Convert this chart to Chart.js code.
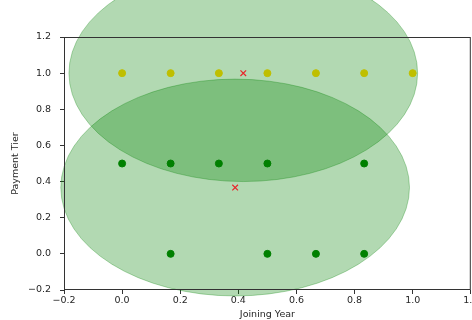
<!DOCTYPE html>
<html>
<head>
<meta charset="utf-8">
<script src="https://cdn.jsdelivr.net/npm/chart.js@4"></script>
<style>
  html, body { margin: 0; padding: 0; background: #fff; overflow: hidden; width: 472px; height: 320px; }
  #wrap { width: 476px; height: 320px; }
</style>
</head>
<body>
<div id="wrap"><canvas id="chart"></canvas></div>
<script>
// points per payment tier (x = joining year, scaled)
const tierHighX = [0, 0.167, 0.333, 0.5, 0.667, 0.833, 1.0];
const tierHighY = 1.0;
const tierMidX = [0, 0.167, 0.333, 0.5, 0.833];
const tierMidY = 0.5;
const tierLowX = [0.167, 0.5, 0.667, 0.833];
const tierLowY = 0.0;

// cluster centres and radius of the shaded circles
const centreX = [0.417, 0.389];
const centreY = [1.0, 0.367];
const clusterRadius = 0.6;

const xTicks = [-0.2, 0.0, 0.2, 0.4, 0.6, 0.8, 1.0, 1.2];
const yTicks = [-0.2, 0.0, 0.2, 0.4, 0.6, 0.8, 1.0, 1.2];

const fmt = v => (v < 0 ? '\u2212' : '') + Math.abs(v).toFixed(1);
const pts = (xs, y) => xs.map(x => ({ x: x, y: y }));

// shaded clusters, drawn under the points and not clipped to the axes
const circlePlugin = {
  id: 'circles',
  beforeDatasetsDraw(chart) {
    const { ctx, scales: { x, y } } = chart;
    ctx.save();
    centreX.forEach((cx, i) => {
      const px = x.getPixelForValue(cx);
      const py = y.getPixelForValue(centreY[i]);
      const rx = Math.abs(x.getPixelForValue(cx + clusterRadius) - px);
      const ry = Math.abs(y.getPixelForValue(centreY[i] + clusterRadius) - py);
      ctx.beginPath();
      ctx.ellipse(px, py, rx, ry, 0, 0, Math.PI * 2);
      ctx.fillStyle = 'rgba(0,128,0,0.3)';
      ctx.fill();
      ctx.lineWidth = 1;
      ctx.strokeStyle = 'rgba(0,128,0,0.3)';
      ctx.stroke();
    });
    ctx.restore();
  },
  afterDatasetsDraw(chart) {
    const { ctx, chartArea: a } = chart;
    ctx.save();
    ctx.strokeStyle = '#333';
    ctx.lineWidth = 1;
    ctx.strokeRect(a.left + 0.5, a.top + 0.5, a.right - a.left - 1, a.bottom - a.top - 1);
    ctx.restore();
  }
};

new Chart(document.getElementById('chart'), {
  type: 'scatter',
  data: {
    datasets: [
      {
        data: pts(tierHighX, tierHighY),
        backgroundColor: '#bfbf00',
        borderColor: '#bfbf00',
        pointRadius: 3.5,
      },
      {
        data: pts(tierMidX, tierMidY),
        backgroundColor: '#008000',
        borderColor: '#008000',
        pointRadius: 3.5,
      },
      {
        data: pts(tierLowX, tierLowY),
        backgroundColor: '#008000',
        borderColor: '#008000',
        pointRadius: 3.5,
      },
      {
        data: centreX.map((cx, i) => ({ x: cx, y: centreY[i] })),
        pointStyle: 'crossRot',
        borderColor: '#e8262a',
        borderWidth: 1.2,
        pointRadius: 4,
      },
    ],
  },
  options: {
    responsive: true,
    maintainAspectRatio: false,
    animation: false,
    events: [],
    layout: { padding: { left: 0, top: 37, right: 0, bottom: 0 } },
    plugins: { legend: { display: false }, tooltip: { enabled: false } },
    scales: {
      x: {
        type: 'linear',
        min: -0.2,
        max: 1.2,
        afterBuildTicks: s => { s.ticks = xTicks.map(v => ({ value: v })); },
        afterFit: s => { s.height = 30; s.paddingLeft = 0; s.paddingRight = 0; },
        grid: { display: true, drawOnChartArea: false, tickLength: 4, color: '#333' },
        border: { display: false },
        ticks: {
          callback: v => fmt(v),
          color: '#262626',
          font: { family: 'DejaVu Sans', size: 9.5 },
          padding: 1,
          maxRotation: 0,
          autoSkip: false,
        },
        title: {
          display: true,
          text: 'Joining Year',
          color: '#262626',
          font: { family: 'DejaVu Sans', size: 9.5 },
          padding: { top: 0, bottom: 0 },
        },
      },
      y: {
        type: 'linear',
        min: -0.2,
        max: 1.2,
        afterBuildTicks: s => { s.ticks = yTicks.map(v => ({ value: v })); },
        afterFit: s => { s.width = 64; s.paddingTop = 0; s.paddingBottom = 0; },
        grid: { display: true, drawOnChartArea: false, tickLength: 4, color: '#333' },
        border: { display: false },
        ticks: {
          callback: v => fmt(v),
          color: '#262626',
          font: { family: 'DejaVu Sans', size: 9.5 },
          padding: 9,
          autoSkip: false,
        },
        title: {
          display: true,
          text: 'Payment Tier',
          color: '#262626',
          font: { family: 'DejaVu Sans', size: 9.5 },
          padding: { top: 10, bottom: 0 },
        },
      },
    },
  },
  plugins: [circlePlugin],
});
</script>
</body>
</html>
